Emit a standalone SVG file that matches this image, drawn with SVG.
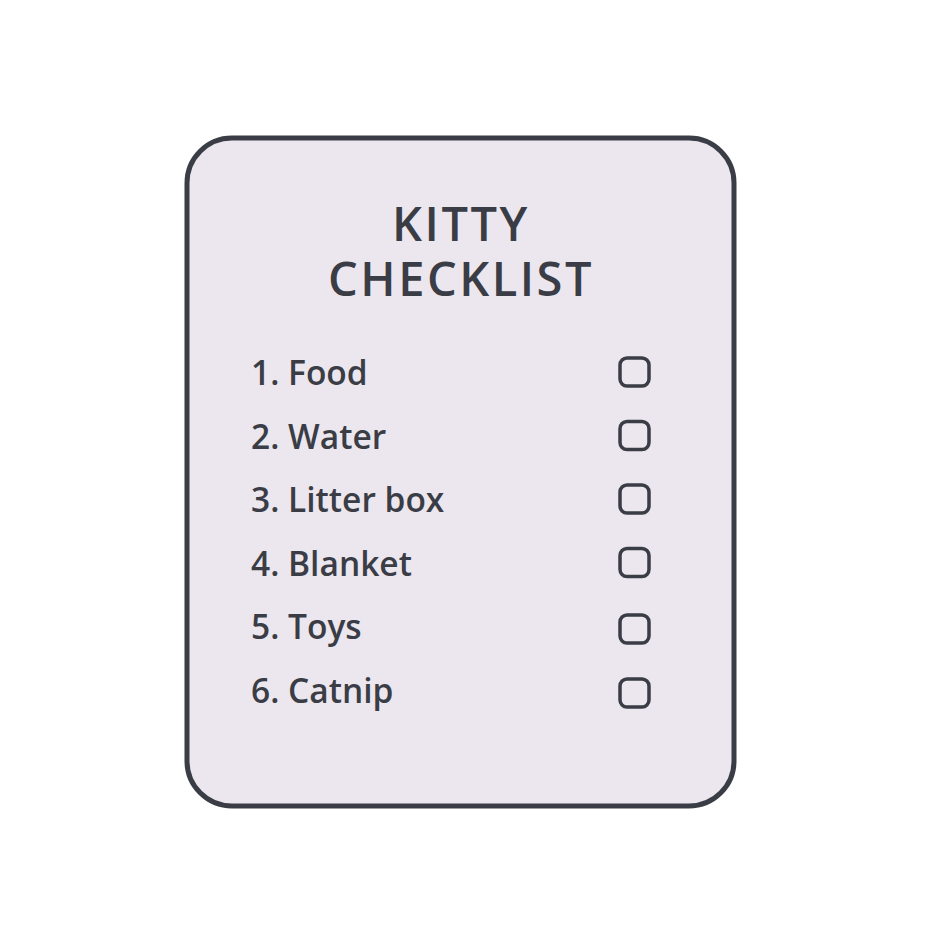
<svg xmlns="http://www.w3.org/2000/svg" width="945" height="945" viewBox="0 0 945 945">
<style>
.card{fill:#ece7ee;stroke:#3a3d45;stroke-width:5}
.t{font-family:"Open Sans","Liberation Sans",sans-serif;fill:#3a3d45}
.title{font-size:47px;font-weight:600;text-anchor:middle;letter-spacing:2.5px}
.item{font-size:33.5px;font-weight:600}
.cb{fill:none;stroke:#3a3d45;stroke-width:3.5}
</style>
<rect width="945" height="945" fill="#ffffff"/>
<g id="card">
<rect class="card" x="187" y="138" width="547" height="668" rx="45" ry="45"/>
<text class="t title" x="461" y="241">KITTY<tspan x="461" y="296">CHECKLIST</tspan></text>
</g>
<g id="item1"><text class="t item" x="251" y="385">1. Food</text><rect class="cb" x="620" y="358" width="29" height="28" rx="7"/></g>
<g id="item2"><text class="t item" x="251" y="448.5">2. Water</text><rect class="cb" x="620" y="421.5" width="29" height="28" rx="7"/></g>
<g id="item3"><text class="t item" x="251" y="512">3. Litter box</text><rect class="cb" x="620" y="485" width="29" height="28" rx="7"/></g>
<g id="item4"><text class="t item" x="251" y="575.5">4. Blanket</text><rect class="cb" x="620" y="548.5" width="29" height="28" rx="7"/></g>
<g id="item5"><text class="t item" x="251" y="639">5. Toys</text><rect class="cb" x="620" y="615" width="29" height="28" rx="7"/></g>
<g id="item6"><text class="t item" x="251" y="702.5">6. Catnip</text><rect class="cb" x="620" y="679" width="29" height="28" rx="7"/></g>
<g id="connectors"></g>
</svg>
